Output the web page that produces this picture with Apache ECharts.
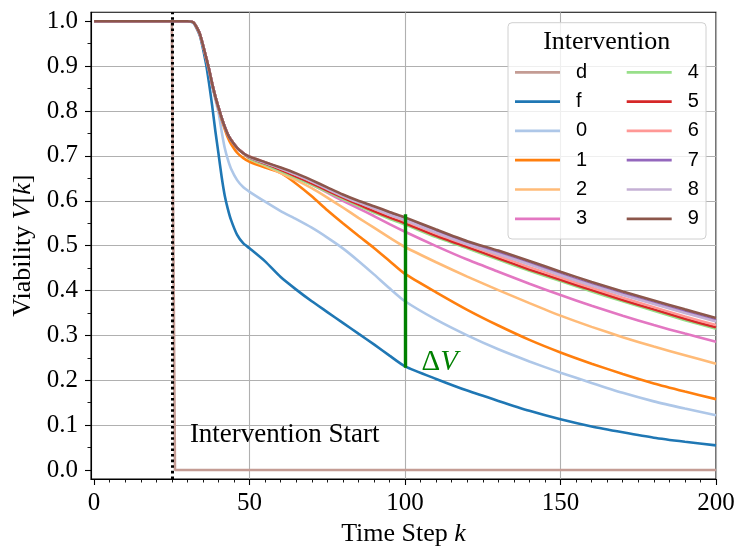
<!DOCTYPE html>
<html lang="en">
<head>
  <meta charset="UTF-8">
  <title>Viability</title>
  <style>
    html, body { margin: 0; padding: 0; background: #fff; }
    #main { width: 748px; height: 557px; }
  </style>
  <script src="https://cdn.jsdelivr.net/npm/echarts@6/dist/echarts.min.js"></script>
</head>
<body>
  <div id="main"></div>
  <script>
    // time steps shared by every curve
    var steps = [0, 25, 26, 30, 32, 34, 36, 37, 38, 39, 40, 41, 42, 43, 44, 46, 48,
      50, 55, 60, 65, 70, 75, 80, 85, 90, 95, 100, 110, 120, 130, 140, 150, 160, 170, 180, 190, 200];

    // k = 0..48 part, shared by interventions 2..9
    var bundleHead = [1, 1, 1, 1, 0.997, 0.972, 0.92, 0.892, 0.86, 0.832, 0.808, 0.785, 0.765, 0.748, 0.736, 0.718, 0.706];

    var vD = [1, 1, 0, 0, 0, 0, 0, 0, 0, 0, 0, 0, 0, 0, 0, 0, 0,
      0, 0, 0, 0, 0, 0, 0, 0, 0, 0, 0, 0, 0, 0, 0, 0, 0, 0, 0, 0, 0];
    var vF = [1, 1, 1, 1, 0.996, 0.968, 0.905, 0.86, 0.81, 0.755, 0.705, 0.654, 0.612, 0.582, 0.558, 0.524, 0.505,
      0.494, 0.465, 0.43, 0.402, 0.376, 0.352, 0.328, 0.304, 0.28, 0.255, 0.231, 0.203, 0.177, 0.154, 0.132, 0.113, 0.097, 0.084, 0.072, 0.063, 0.055];
    var v0 = [1, 1, 1, 1, 0.997, 0.972, 0.918, 0.888, 0.855, 0.825, 0.797, 0.755, 0.718, 0.692, 0.672, 0.646, 0.63,
      0.62, 0.598, 0.577, 0.559, 0.54, 0.518, 0.494, 0.466, 0.436, 0.405, 0.376, 0.335, 0.3, 0.269, 0.242, 0.217, 0.194, 0.172, 0.153, 0.137, 0.122];
    var v1 = [1, 1, 1, 1, 0.997, 0.971, 0.918, 0.89, 0.858, 0.83, 0.805, 0.781, 0.76, 0.741, 0.727, 0.707, 0.695,
      0.687, 0.674, 0.662, 0.638, 0.61, 0.579, 0.55, 0.522, 0.495, 0.466, 0.437, 0.396, 0.357, 0.322, 0.29, 0.262, 0.237, 0.214, 0.193, 0.175, 0.158];
    var v2 = bundleHead.concat([0.693, 0.678, 0.662, 0.646, 0.628, 0.607, 0.585, 0.562, 0.54, 0.518, 0.497, 0.463, 0.431, 0.401, 0.372, 0.344, 0.319, 0.296, 0.275, 0.256, 0.237]);
    var v3 = bundleHead.concat([0.695, 0.682, 0.668, 0.652, 0.636, 0.618, 0.6, 0.583, 0.566, 0.548, 0.531, 0.499, 0.469, 0.442, 0.415, 0.39, 0.366, 0.344, 0.323, 0.304, 0.286]);
    var v4 = bundleHead.concat([0.694, 0.68, 0.666, 0.651, 0.636, 0.62, 0.604, 0.589, 0.574, 0.56, 0.547, 0.519, 0.494, 0.469, 0.444, 0.421, 0.398, 0.376, 0.355, 0.334, 0.315]);
    var v5 = bundleHead.concat([0.696, 0.683, 0.669, 0.654, 0.639, 0.623, 0.607, 0.592, 0.577, 0.563, 0.55, 0.522, 0.497, 0.472, 0.447, 0.424, 0.401, 0.379, 0.358, 0.337, 0.318]);
    var v6 = bundleHead.concat([0.699, 0.686, 0.672, 0.658, 0.643, 0.628, 0.612, 0.597, 0.582, 0.568, 0.555, 0.527, 0.502, 0.477, 0.452, 0.429, 0.406, 0.384, 0.363, 0.342, 0.323]);
    var v7 = bundleHead.concat([0.697, 0.685, 0.673, 0.659, 0.644, 0.628, 0.612, 0.597, 0.585, 0.571, 0.559, 0.532, 0.506, 0.484, 0.461, 0.437, 0.414, 0.393, 0.373, 0.353, 0.334]);
    var v8 = bundleHead.concat([0.697, 0.684, 0.672, 0.658, 0.643, 0.626, 0.61, 0.596, 0.583, 0.569, 0.557, 0.529, 0.503, 0.481, 0.458, 0.434, 0.411, 0.39, 0.37, 0.35, 0.331]);
    var v9 = bundleHead.concat([0.698, 0.686, 0.674, 0.661, 0.646, 0.63, 0.614, 0.6, 0.588, 0.575, 0.563, 0.536, 0.51, 0.489, 0.466, 0.442, 0.419, 0.398, 0.378, 0.358, 0.339]);

    var names = ['d', 'f', '0', '1', '2', '3', '4', '5', '6', '7', '8', '9'];
    var values = [vD, vF, v0, v1, v2, v3, v4, v5, v6, v7, v8, v9];
    var colors = ['#c49c94', '#1f77b4', '#aec7e8', '#ff7f0e', '#ffbb78', '#e377c2',
      '#98df8a', '#d62728', '#ff9896', '#9467bd', '#c5b0d5', '#8c564b'];

    // axis ticks
    var xTicks = [0, 50, 100, 150, 200];
    var yTicks = [0, 0.1, 0.2, 0.3, 0.4, 0.5, 0.6, 0.7, 0.8, 0.9, 1.0];
    var xMinor = [];
    for (var i = 5; i < 200; i += 5) { if (i % 50 !== 0) xMinor.push(i); }
    var yMinor = [];
    for (var j = 0; j < 10; j++) { yMinor.push(+(j * 0.1 + 0.05).toFixed(2)); }

    // annotations
    var startK = 25;
    var startText = 'Intervention Start';
    var startTextPos = [30.8, 0.078];
    var deltaK = 100;
    var deltaTextPos = [105.3, 0.24];

    var serif = 'Liberation Serif';
    var sans = 'Liberation Sans';

    var myChart = echarts.init(document.getElementById('main'));

    var series = names.map(function (n, idx) {
      return {
        name: n,
        type: 'line',
        symbol: 'none',
        smooth: idx === 0 ? false : 0.2,
        lineStyle: { color: colors[idx], width: 2.6 },
        itemStyle: { color: colors[idx] },
        emphasis: { disabled: true },
        data: steps.map(function (k, t) { return [k, values[idx][t]]; })
      };
    });

    var kIdx = steps.indexOf(deltaK);
    // annotation series: dotted start line, delta V bar and the two texts
    series.push({
      name: 'annot',
      type: 'line',
      data: [],
      silent: true,
      markLine: {
        silent: true,
        symbol: ['none', 'none'],
        animation: false,
        label: { show: false },
        data: [
          { xAxis: startK, lineStyle: { color: '#000', width: 3, type: [2.6, 3] } },
          [
            { coord: [deltaK, vF[kIdx] - 0.003], lineStyle: { color: '#008000', width: 3.4, type: 'solid' } },
            { coord: [deltaK, v9[kIdx] + 0.007] }
          ]
        ]
      },
      markPoint: {
        silent: true,
        symbol: 'circle',
        symbolSize: 0,
        animation: false,
        label: { show: true, position: 'right', distance: 0 },
        data: [
          {
            coord: startTextPos,
            label: { formatter: startText, color: '#000', fontFamily: serif, fontSize: 27 }
          },
          {
            coord: deltaTextPos,
            label: {
              formatter: '{a|\u0394}{b|V}',
              rich: {
                a: { color: '#008000', fontFamily: serif, fontSize: 29 },
                b: { color: '#008000', fontFamily: serif, fontSize: 29, fontStyle: 'italic' }
              }
            }
          }
        ]
      }
    });

    var legendText = { fontFamily: sans, fontSize: 20, lineHeight: 20, color: '#000', padding: [0, 0, 0, 11] };

    var option = {
      animation: false,
      backgroundColor: '#fff',
      grid: {
        left: 91, right: 32, top: 12.3, bottom: 78,
        containLabel: false,
        outerBoundsMode: 'none',
        show: true,
        borderColor: '#000',
        borderWidth: 1.1,
        backgroundColor: 'transparent'
      },
      xAxis: [
        {
          type: 'value',
          min: -1,
          max: 200,
          minInterval: 50,
          maxInterval: 50,
          name: '{r|Time Step }{i|k}',
          nameLocation: 'middle',
          nameGap: 33,
          nameTextStyle: {
            rich: {
              r: { fontFamily: serif, fontSize: 26, color: '#000' },
              i: { fontFamily: serif, fontSize: 26, color: '#000', fontStyle: 'italic' }
            }
          },
          axisLine: { show: true, onZero: false, lineStyle: { color: '#000', width: 1.1 } },
          axisTick: { show: true, length: 6, customValues: xTicks, lineStyle: { color: '#000', width: 1.1 } },
          axisLabel: {
            customValues: xTicks, margin: 12, color: '#000',
            fontFamily: serif, fontSize: 25
          },
          splitLine: { show: true, showMinLine: false, showMaxLine: true, lineStyle: { color: '#b0b0b0', width: 1.1 } }
        },
        {
          type: 'value',
          min: -1,
          max: 200,
          position: 'bottom',
          axisLine: { show: false, onZero: false },
          axisLabel: { show: false },
          splitLine: { show: false },
          axisTick: { show: true, length: 3.5, customValues: xMinor, lineStyle: { color: '#000', width: 0.9 } }
        }
      ],
      yAxis: [
        {
          type: 'value',
          min: -0.02,
          max: 1.02,
          minInterval: 0.1,
          maxInterval: 0.1,
          name: '{r|Viability }{i|V}{r|[}{i|k}{r|]}',
          nameLocation: 'middle',
          nameGap: 52,
          nameTextStyle: {
            rich: {
              r: { fontFamily: serif, fontSize: 26, color: '#000' },
              i: { fontFamily: serif, fontSize: 26, color: '#000', fontStyle: 'italic' }
            }
          },
          axisLine: { show: true, onZero: false, lineStyle: { color: '#000', width: 1.1 } },
          axisTick: { show: true, length: 6, customValues: yTicks, lineStyle: { color: '#000', width: 1.1 } },
          axisLabel: {
            customValues: yTicks, margin: 13, color: '#000',
            fontFamily: serif, fontSize: 25,
            formatter: function (v) { return v.toFixed(1); }
          },
          splitLine: { show: true, showMinLine: false, showMaxLine: false, lineStyle: { color: '#b0b0b0', width: 1.1 } }
        },
        {
          type: 'value',
          min: -0.02,
          max: 1.02,
          position: 'left',
          axisLine: { show: false, onZero: false },
          axisLabel: { show: false },
          splitLine: { show: false },
          axisTick: { show: true, length: 3.5, customValues: yMinor, lineStyle: { color: '#000', width: 0.9 } }
        }
      ],
      legend: [
        {
          data: names.slice(0, 6),
          orient: 'vertical',
          left: 515,
          top: 62.3,
          padding: 0,
          icon: 'rect',
          itemWidth: 45,
          itemHeight: 2.7,
          itemGap: 9.3,
          selectedMode: false,
          textStyle: legendText
        },
        {
          data: names.slice(6),
          orient: 'vertical',
          left: 626.7,
          top: 62.3,
          padding: 0,
          icon: 'rect',
          itemWidth: 45,
          itemHeight: 2.7,
          itemGap: 9.3,
          selectedMode: false,
          textStyle: legendText
        }
      ],
      graphic: [
        {
          type: 'rect',
          z: 3,
          silent: true,
          shape: { x: 508, y: 22.7, width: 198, height: 216.3, r: 4 },
          style: { fill: 'rgba(255,255,255,0.8)', stroke: '#d0d0d0', lineWidth: 1 }
        },
        {
          type: 'text',
          z: 4,
          silent: true,
          x: 606.7,
          y: 41.7,
          style: {
            text: 'Intervention', fill: '#000', font: '26px "Liberation Serif"',
            align: 'center', verticalAlign: 'middle'
          }
        }
      ],
      series: series
    };

    myChart.setOption(option);
  </script>
</body>
</html>
